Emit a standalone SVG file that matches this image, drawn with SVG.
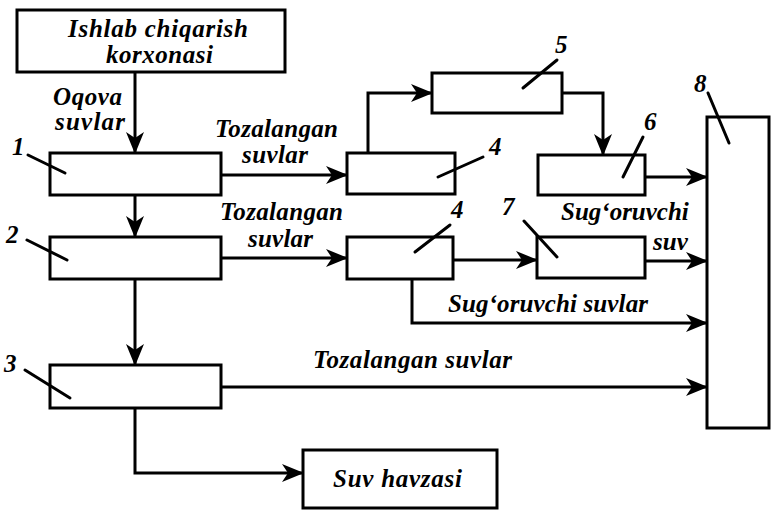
<svg xmlns="http://www.w3.org/2000/svg" width="772" height="513" viewBox="0 0 772 513">
<defs>
<marker id="arr" markerUnits="userSpaceOnUse" markerWidth="22" markerHeight="20" refX="21" refY="10" orient="auto">
<path d="M0,1 L22,10 L0,19 L6,10 Z" fill="#000"/>
</marker>
<style>
.box{fill:#fff;stroke:#000;stroke-width:3}
.ar{fill:none;stroke:#000;stroke-width:3;marker-end:url(#arr)}
.ld{stroke:#000;stroke-width:3;stroke-linecap:round}
</style>
</defs>
<rect width="772" height="513" fill="#fff"/>
<g font-family="Liberation Serif" font-weight="bold" font-style="italic" font-size="25" fill="#000">
<g id="connectors">
<path class="ar" d="M135,72 V153"/>
<path class="ar" d="M135,195 V237"/>
<path class="ar" d="M135,279 V365"/>
<path class="ar" d="M135,408 V473 H303"/>
<path class="ar" d="M221,175 H347"/>
<path class="ar" d="M221,258 H347"/>
<path class="ar" d="M368,153 V93 H432"/>
<path class="ar" d="M562,93 H603 V155"/>
<path class="ar" d="M645,177 H707"/>
<path class="ar" d="M453,260 H537"/>
<path class="ar" d="M645,261 H707"/>
<path class="ar" d="M412,279 V323 H707"/>
<path class="ar" d="M221,387 H707"/>
<text x="53" y="105" textLength="69">Oqova</text>
<text x="55" y="130" textLength="70">suvlar</text>
<text x="215" y="137" textLength="123">Tozalangan</text>
<text x="242" y="163" textLength="66">suvlar</text>
<text x="220" y="220" textLength="123">Tozalangan</text>
<text x="248" y="247" textLength="65">suvlar</text>
<text x="561" y="220">Sug‘oruvchi</text>
<text x="653" y="250">suv</text>
<text x="448" y="312" textLength="200">Sug‘oruvchi  suvlar</text>
<text x="313" y="368" textLength="199">Tozalangan  suvlar</text>
</g>
<g id="source">
<rect class="box" x="17" y="10" width="268" height="62"/>
<text x="68" y="37" textLength="180">Ishlab  chiqarish</text>
<text x="106" y="63" textLength="107">korxonasi</text>
</g>
<g id="node1">
<rect class="box" x="50" y="153" width="171" height="42"/>
<line class="ld" x1="28" y1="155" x2="65" y2="173"/>
<text x="12" y="155">1</text>
</g>
<g id="node2">
<rect class="box" x="50" y="237" width="171" height="42"/>
<line class="ld" x1="27" y1="240" x2="67" y2="260"/>
<text x="6" y="243">2</text>
</g>
<g id="node3">
<rect class="box" x="50" y="365" width="171" height="43"/>
<line class="ld" x1="25" y1="370" x2="70" y2="398"/>
<text x="4" y="372">3</text>
</g>
<g id="node4a">
<rect class="box" x="347" y="153" width="108" height="41"/>
<line class="ld" x1="438" y1="177" x2="483" y2="157"/>
<text x="489" y="155">4</text>
</g>
<g id="node4b">
<rect class="box" x="347" y="237" width="106" height="42"/>
<line class="ld" x1="415" y1="252" x2="450" y2="225"/>
<text x="451" y="218">4</text>
</g>
<g id="node5">
<rect class="box" x="432" y="73" width="130" height="40"/>
<line class="ld" x1="523" y1="88" x2="557" y2="60"/>
<text x="555" y="53">5</text>
</g>
<g id="node6">
<rect class="box" x="538" y="155" width="107" height="40"/>
<line class="ld" x1="623" y1="177" x2="643" y2="137"/>
<text x="644" y="130">6</text>
</g>
<g id="node7">
<rect class="box" x="537" y="237" width="108" height="41"/>
<line class="ld" x1="524" y1="221" x2="557" y2="257"/>
<text x="502" y="215">7</text>
</g>
<g id="node8">
<rect class="box" x="707" y="117" width="62" height="311"/>
<line class="ld" x1="708" y1="93" x2="729" y2="143"/>
<text x="694" y="92">8</text>
</g>
<g id="suv-havzasi">
<rect class="box" x="303" y="450" width="194" height="58"/>
<text x="333" y="487" textLength="129">Suv  havzasi</text>
</g>
</g>
</svg>
